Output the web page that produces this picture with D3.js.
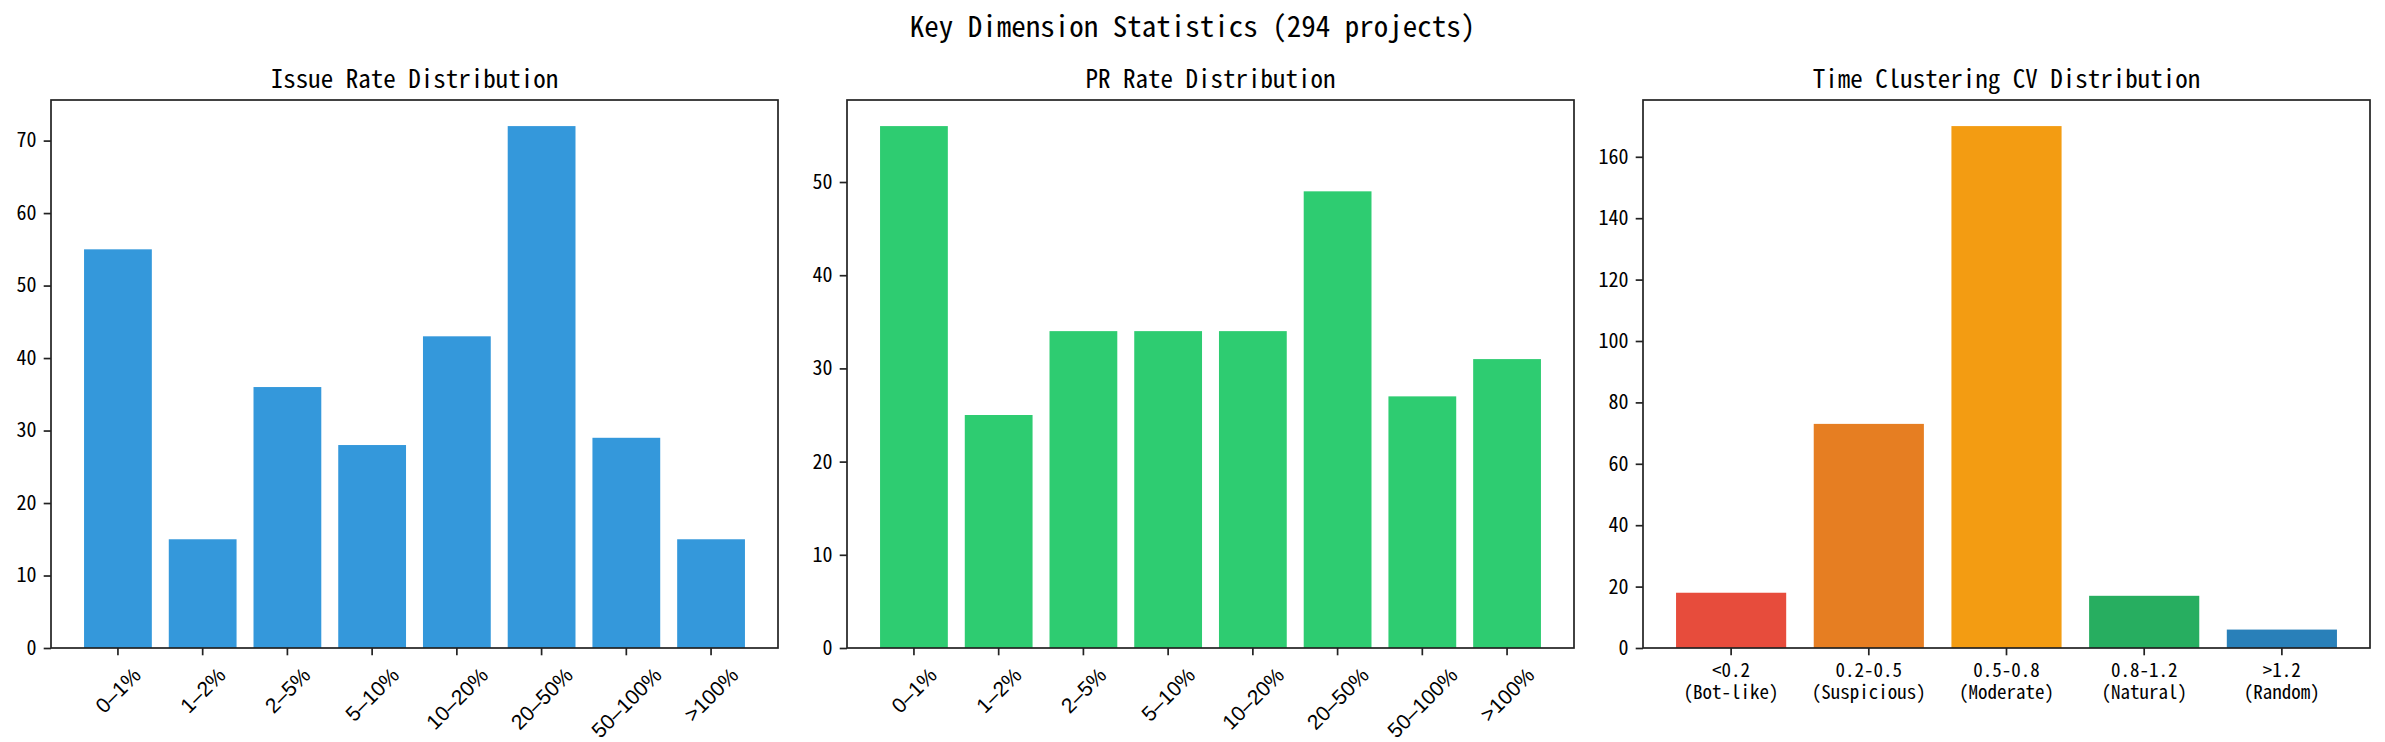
<!DOCTYPE html>
<html>
<head>
<meta charset="utf-8">
<script src="https://cdn.jsdelivr.net/npm/d3@7"></script>
<style>
body { margin: 0; background: #fff; }
text { font-family: "Noto Sans Mono CJK SC", "Noto Sans CJK SC", "DejaVu Sans Mono", monospace; fill: #000; }
.rot { font-family: "Liberation Sans", "DejaVu Sans", sans-serif; }
</style>
</head>
<body>
<div id="chart"></div>
<script>
// data
var rateCats = ["0–1%", "1–2%", "2–5%", "5–10%", "10–20%", "20–50%", "50–100%", ">100%"];
var issueVals = [55, 15, 36, 28, 43, 72, 29, 15];
var prVals = [56, 25, 34, 34, 34, 49, 27, 31];
var cvCats = [["<0.2", "(Bot-like)"], ["0.2-0.5", "(Suspicious)"], ["0.5-0.8", "(Moderate)"], ["0.8-1.2", "(Natural)"], [">1.2", "(Random)"]];
var cvVals = [18, 73, 170, 17, 6];
var issueTicks = [0, 10, 20, 30, 40, 50, 60, 70];
var prTicks = [0, 10, 20, 30, 40, 50];
var cvTicks = [0, 20, 40, 60, 80, 100, 120, 140, 160];
var cvColors = ["#e74c3c", "#e67e22", "#f39c12", "#27ae60", "#2980b9"];

var W = 2385, H = 742;
var plotTop = 100, plotBottom = 648, pw = 727;
var lefts = [51, 847, 1643];

var svg = d3.select("#chart").append("svg")
	.attr("width", W)
	.attr("height", H);

svg.append("text")
	.attr("x", W / 2)
	.attr("y", 37)
	.attr("text-anchor", "middle")
	.style("font-size", "29px")
	.text("Key Dimension Statistics (294 projects)");

function panel(i, title, cats, vals, ticks, colorFn, rotated) {
	var x0 = lefts[i];
	var n = cats.length;
	var g = svg.append("g");

	var x = d3.scaleBand()
		.domain(d3.range(n))
		.range([x0, x0 + pw])
		.paddingInner(0.2)
		.paddingOuter(0.05 * (n - 0.2));

	var y = d3.scaleLinear()
		.domain([0, d3.max(vals) * 1.05])
		.range([plotBottom, plotTop]);

	g.selectAll("rect.bar")
		.data(vals)
		.enter()
		.append("rect")
		.attr("class", "bar")
		.attr("x", function(d, j) { return x(j); })
		.attr("y", function(d) { return y(d); })
		.attr("width", x.bandwidth())
		.attr("height", function(d) { return plotBottom - y(d); })
		.attr("fill", function(d, j) { return colorFn(j); });

	// frame
	g.append("rect")
		.attr("x", x0)
		.attr("y", plotTop)
		.attr("width", pw)
		.attr("height", plotBottom - plotTop)
		.attr("fill", "none")
		.attr("stroke", "#222")
		.attr("stroke-width", 1.7);

	var yAxis = g.append("g")
		.attr("transform", "translate(" + x0 + ",0)")
		.call(d3.axisLeft(y).tickValues(ticks).tickSize(7.3).tickPadding(7.3).tickFormat(d3.format("d")));
	yAxis.select(".domain").remove();
	yAxis.selectAll("line").attr("stroke", "#222").attr("stroke-width", 1.7);
	yAxis.selectAll("text").style("font-size", "20px").attr("fill", "#000");

	var xAxis = g.append("g")
		.attr("transform", "translate(0," + plotBottom + ")")
		.call(d3.axisBottom(x).tickSize(7.3).tickFormat(""));
	xAxis.select(".domain").remove();
	xAxis.selectAll("line").attr("stroke", "#222").attr("stroke-width", 1.7);

	var y0 = plotBottom + 14.6;
	if (rotated) {
		cats.forEach(function(c, j) {
			var tx = x(j) + x.bandwidth() / 2;
			var t = g.append("text")
				.attr("class", "rot")
				.attr("text-anchor", "middle")
				.attr("dominant-baseline", "central")
				.style("font-size", "21px")
				.text(c);
			var w = t.node().getComputedTextLength();
			var h = 21 * 1.15;
			var bb = (w + h) * Math.SQRT1_2;
			t.attr("transform", "translate(" + tx + "," + (y0 + bb / 2) + ") rotate(-45)");
		});
	} else {
		cats.forEach(function(c, j) {
			var tx = x(j) + x.bandwidth() / 2;
			var t = g.append("text")
				.attr("text-anchor", "middle")
				.style("font-size", "19px");
			c.forEach(function(line, k) {
				t.append("tspan")
					.attr("x", tx)
					.attr("y", plotBottom + 29 + k * 22)
					.text(line);
			});
		});
	}

	g.append("text")
		.attr("x", x0 + pw / 2)
		.attr("y", 88)
		.attr("text-anchor", "middle")
		.style("font-size", "25px")
		.text(title);
}

panel(0, "Issue Rate Distribution", rateCats, issueVals, issueTicks, function() { return "#3498db"; }, true);
panel(1, "PR Rate Distribution", rateCats, prVals, prTicks, function() { return "#2ecc71"; }, true);
panel(2, "Time Clustering CV Distribution", cvCats, cvVals, cvTicks, function(j) { return cvColors[j]; }, false);
</script>
</body>
</html>
